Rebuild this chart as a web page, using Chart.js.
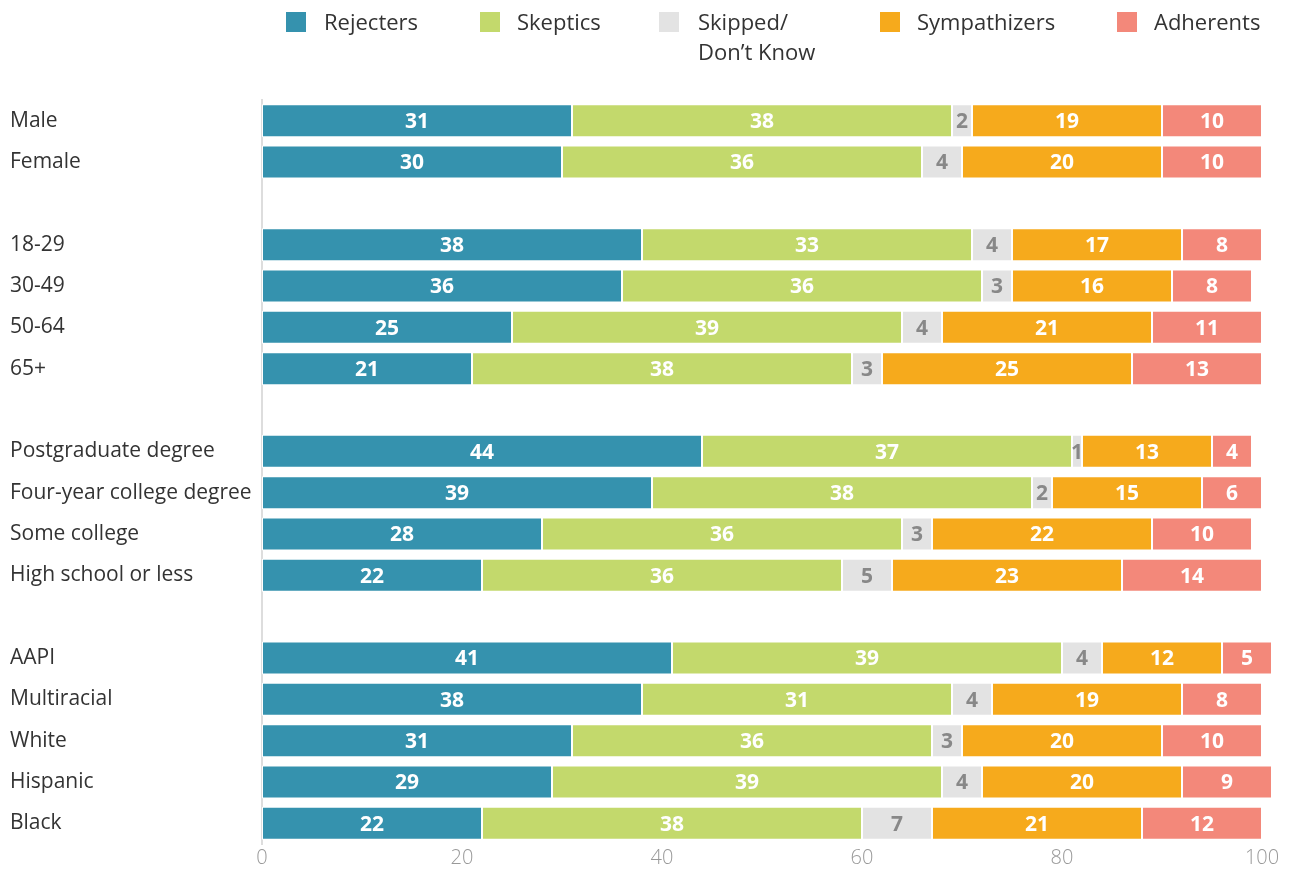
<!DOCTYPE html>
<html>
<head>
<meta charset="utf-8">
<script src="https://cdn.jsdelivr.net/npm/chart.js"></script>
<style>
  body{margin:0;background:#fff;font-family:"Open Sans",sans-serif;}
  #wrap{position:relative;width:1294px;height:872px;}
  .lg{position:absolute;top:6px;font-size:22px;line-height:30px;color:#333;}
  .sw{position:absolute;top:12px;width:20px;height:20px;}
</style>
</head>
<body>
<div id="wrap">
  <canvas id="c" width="1294" height="872"></canvas>
</div>
<script>
// ---- data ----
const CATEGORIES = ['Male','Female','','18-29','30-49','50-64','65+','','Postgraduate degree','Four-year college degree','Some college','High school or less','','AAPI','Multiracial','White','Hispanic','Black'];
const SERIES = ['Rejecters','Skeptics','Skipped/\nDon\u2019t Know','Sympathizers','Adherents'];
const REJECTERS    = [31,30,null,38,36,25,21,null,44,39,28,22,null,41,38,31,29,22];
const SKEPTICS     = [38,36,null,33,36,39,38,null,37,38,36,36,null,39,31,36,39,38];
const SKIPPED      = [2,4,null,4,3,4,3,null,1,2,3,5,null,4,4,3,4,7];
const SYMPATHIZERS = [19,20,null,17,16,21,25,null,13,15,22,23,null,12,19,20,20,21];
const ADHERENTS    = [10,10,null,8,8,11,13,null,4,6,10,14,null,5,8,10,9,12];
const X_TICKS = [0,20,40,60,80,100];

const COLORS = ['#3592ae','#c3d96c','#e3e3e3','#f6aa1c','#f3887a'];
const LABEL_COLORS = ['#fff','#fff','#888','#fff','#fff'];

// ---- legend (html, third item wraps onto two lines) ----
const wrap = document.getElementById('wrap');
const LG_SW = [286,480,659,880,1117], LG_TX = [324,517,698,917,1154];
SERIES.forEach((s,i)=>{
  const sw = document.createElement('div'); sw.className='sw';
  sw.style.left = LG_SW[i]+'px'; sw.style.background = COLORS[i];
  wrap.appendChild(sw);
  const t = document.createElement('div'); t.className='lg';
  t.style.left = LG_TX[i]+'px';
  t.innerHTML = s.replace('\n','<br>');
  wrap.appendChild(t);
});

// ---- value labels inside bars ----
const barLabels = {
  id:'barLabels',
  afterDatasetsDraw(chart){
    const ctx = chart.ctx;
    ctx.save();
    ctx.font = 'bold 21px "Open Sans"';
    ctx.textAlign = 'center'; ctx.textBaseline = 'middle';
    chart.data.datasets.forEach((ds,di)=>{
      const meta = chart.getDatasetMeta(di);
      meta.data.forEach((bar,i)=>{
        const v = ds.data[i];
        if(v==null) return;
        ctx.fillStyle = LABEL_COLORS[di];
        ctx.fillText(String(v), (bar.x+bar.base)/2, bar.y+1.5);
      });
    });
    ctx.restore();
  }
};

const seriesData = [REJECTERS,SKEPTICS,SKIPPED,SYMPATHIZERS,ADHERENTS];
new Chart(document.getElementById('c'), {
  type:'bar',
  data:{
    labels: CATEGORIES,
    datasets: seriesData.map((d,i)=>({
      label: SERIES[i], data: d, backgroundColor: COLORS[i],
      borderColor:'#fff', borderWidth:1, borderSkipped:false,
      categoryPercentage:0.8, barPercentage:1, clip:false
    }))
  },
  options:{
    indexAxis:'y', responsive:false, animation:false,
    layout:{ padding:{ top:100, left:10, right:32, bottom:0 } },
    plugins:{ legend:{display:false}, tooltip:{enabled:false} },
    scales:{
      x:{
        stacked:true, min:0, max:100,
        afterBuildTicks(scale){ scale.ticks = X_TICKS.map(v=>({value:v})); },
        grid:{ display:false, drawTicks:false },
        border:{ display:false },
        ticks:{ color:'#999', padding:2, font:{ family:'"Open Sans"', size:20, weight:300 } }
      },
      y:{
        stacked:true,
        afterFit(scale){ scale.width = 252; },
        grid:{ display:false, drawTicks:false },
        border:{ display:true, color:'#ddd', width:2 },
        ticks:{ crossAlign:'far', color:'#333', autoSkip:false, font:{ family:'"Open Sans"', size:21 } }
      }
    }
  },
  plugins:[barLabels]
});
</script>
</body>
</html>
